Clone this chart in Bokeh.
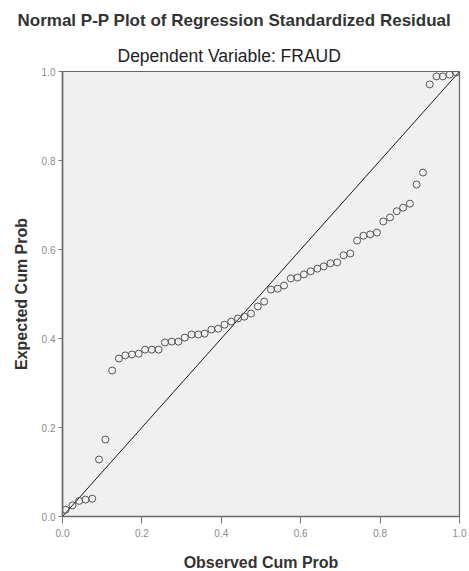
from bokeh.plotting import figure
from bokeh.models import FixedTicker, PrintfTickFormatter, Title, Range1d
from bokeh.embed import file_html
from bokeh.resources import INLINE

# ---- data ----
observed_cum_prob = [0.008, 0.025, 0.042, 0.058, 0.075, 0.092, 0.108, 0.125, 0.142, 0.158,
                     0.175, 0.192, 0.208, 0.225, 0.242, 0.258, 0.275, 0.292, 0.308, 0.325,
                     0.342, 0.358, 0.375, 0.392, 0.408, 0.425, 0.442, 0.458, 0.475, 0.492,
                     0.508, 0.525, 0.542, 0.558, 0.575, 0.592, 0.608, 0.625, 0.642, 0.658,
                     0.675, 0.692, 0.708, 0.725, 0.742, 0.758, 0.775, 0.792, 0.808, 0.825,
                     0.842, 0.858, 0.875, 0.892, 0.908, 0.925, 0.942, 0.958, 0.975, 0.992]
expected_cum_prob = [0.015, 0.025, 0.035, 0.038, 0.040, 0.128, 0.173, 0.328, 0.355, 0.362,
                     0.364, 0.366, 0.375, 0.375, 0.375, 0.391, 0.393, 0.393, 0.402, 0.409,
                     0.409, 0.411, 0.420, 0.422, 0.431, 0.438, 0.445, 0.449, 0.456, 0.472,
                     0.483, 0.510, 0.512, 0.519, 0.535, 0.537, 0.544, 0.551, 0.557, 0.562,
                     0.569, 0.571, 0.587, 0.591, 0.620, 0.631, 0.634, 0.638, 0.663, 0.672,
                     0.686, 0.694, 0.703, 0.746, 0.773, 0.971, 0.989, 0.989, 0.993, 0.998]
ref_line_x = [0.0, 1.0]
ref_line_y = [0.0, 1.0]
tick_values = [0.0, 0.2, 0.4, 0.6, 0.8, 1.0]

title_text = "Normal P-P Plot of Regression Standardized Residual"
subtitle_text = "Dependent Variable: FRAUD"
x_title = "Observed Cum Prob"
y_title = "Expected Cum Prob"

FONT = "Liberation Sans"

p = figure(frame_width=397, frame_height=445,
           x_range=Range1d(0, 1), y_range=Range1d(0, 1),
           title=None, output_backend="svg", toolbar_location=None,
           min_border_left=62, min_border_right=10,
           min_border_top=71, min_border_bottom=55)

p.background_fill_color = "#f0f0f0"
p.border_fill_color = "white"
p.outline_line_color = "#666666"
p.outline_line_width = 1.2
p.xgrid.visible = False
p.ygrid.visible = False

for ax in (p.xaxis, p.yaxis):
    ax.ticker = FixedTicker(ticks=tick_values)
    ax.formatter = PrintfTickFormatter(format="%.1f")
    ax.minor_tick_line_color = None
    ax.axis_line_color = "#6a6a6a"
    ax.axis_line_width = 1.6
    ax.major_tick_line_color = "#777777"
    ax.major_tick_in = 0
    ax.major_label_text_font = FONT
    ax.major_label_text_font_size = "10px"
    ax.major_label_text_color = "#8a8a8a"
    ax.axis_label_text_font = FONT
    ax.axis_label_text_font_size = "16px"
    ax.axis_label_text_font_style = "bold"
    ax.axis_label_text_color = "#333333"
p.yaxis.major_tick_out = 4
p.yaxis.major_label_standoff = 3
p.xaxis.major_tick_out = 7
p.xaxis.major_label_standoff = 5
p.xaxis.axis_label = x_title
p.yaxis.axis_label = y_title
p.xaxis.axis_label_standoff = 14
p.yaxis.axis_label_standoff = 9

p.line(ref_line_x, ref_line_y, line_color="#1a1a1a", line_width=1)
p.scatter(observed_cum_prob, expected_cum_prob, marker="circle", size=7,
          fill_color=None, line_color="#555555", line_width=1)

p.add_layout(Title(text=subtitle_text, align="left", offset=55, standoff=12,
                   text_font=FONT, text_font_size="17.5px", text_font_style="normal",
                   text_color="#222222"), "above")
p.add_layout(Title(text=title_text, align="left", offset=-45, standoff=15,
                   text_font=FONT, text_font_size="17px", text_font_style="bold",
                   text_color="#333333"), "above")

open("out.html", "w").write(file_html(p, INLINE))
